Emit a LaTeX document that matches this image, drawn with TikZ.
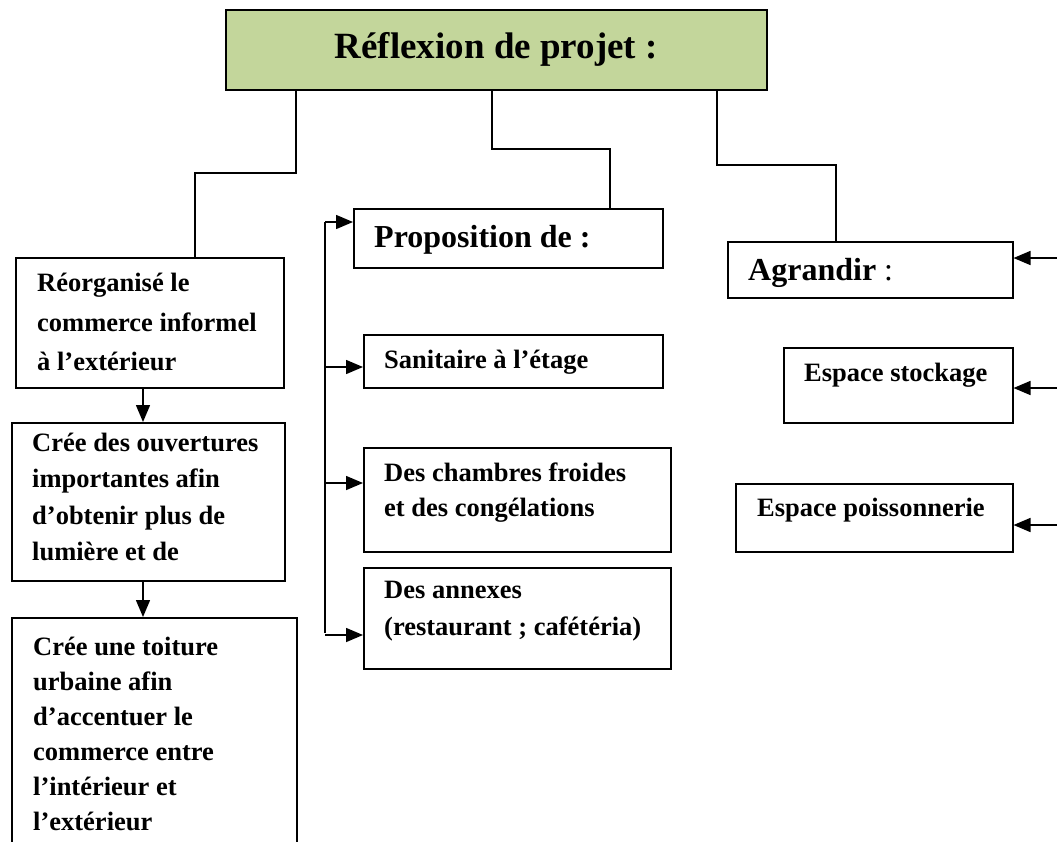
\documentclass[tikz,border=0pt]{standalone}
\usepackage{fontspec}
\setmainfont{Liberation Serif}
\usetikzlibrary{arrows.meta,calc}
\definecolor{titlegreen}{HTML}{C3D69B}
\begin{document}
\begin{tikzpicture}[x=1pt,y=-1pt,
  box/.style={draw, line width=1.5pt, anchor=north west, inner sep=0pt},
  txt/.style={anchor=west, align=left, inner sep=0pt},
  small/.style={font=\fontsize{26.5}{#1}\selectfont\bfseries},
  small/.default=36,
  mid/.style={font=\fontsize{32}{38}\selectfont\bfseries},
  link/.style={line width=1.5pt},
  arr/.style={line width=1.5pt, -{Triangle[length=17pt,width=14pt]}}]
\clip (0,0) rectangle (1057,841);
\fill[white] (0,0) rectangle (1057,841);

% title
\node[box, fill=titlegreen, minimum width=541pt, minimum height=80pt,
      font=\fontsize{37}{44}\selectfont\bfseries] (title) at (225,9) {Réflexion de projet :};

% left column
\node[box, minimum width=268pt, minimum height=130pt] (reorg) at (15,257) {};
\node[txt, small=39.5] (reorgT) at (37,322) {Réorganisé le\\commerce informel\\à l’extérieur};
\node[box, minimum width=273pt, minimum height=158pt] (ouvert) at (11,422) {};
\node[txt, small=36.5] (ouvertT) at (32,497) {Crée des ouvertures\\importantes afin\\d’obtenir plus de\\lumière et de};
\node[box, minimum width=285pt, minimum height=260pt] (toit) at (11,617) {};
\node[txt, small=35] (toitT) at (33,733.5) {Crée une toiture\\urbaine afin\\d’accentuer le\\commerce entre\\l’intérieur et\\l’extérieur};

% middle column
\node[box, minimum width=309pt, minimum height=59pt] (prop) at (353,208) {};
\node[txt, mid] (propT) at (374,240) {Proposition de :};
\node[box, minimum width=299pt, minimum height=53pt] (sanit) at (363,334) {};
\node[txt, small] (sanitT) at (384,362) {Sanitaire à l’étage};
\node[box, minimum width=307pt, minimum height=104pt] (chamb) at (363,447) {};
\node[txt, small=35] (chambT) at (384,492.5) {Des chambres froides\\et des congélations};
\node[box, minimum width=307pt, minimum height=101pt] (annex) at (363,567) {};
\node[txt, small=37] (annexT) at (384,611.5) {Des annexes\\(restaurant ; cafétéria)};

% right column
\node[box, minimum width=285pt, minimum height=56pt] (agr) at (727,241) {};
\node[txt, font=\fontsize{32}{38}\selectfont] (agrT) at (748,273) {\textbf{Agrandir} :};
\node[box, minimum width=229pt, minimum height=75pt] (stock) at (783,347) {};
\node[txt, small] (stockT) at (804,375) {Espace stockage};
\node[box, minimum width=277pt, minimum height=68pt] (poiss) at (735,483) {};
\node[txt, small] (poissT) at (757,510) {Espace poissonnerie};

% branches from the title
\draw[link] ($(title.south west)+(71,0)$) |- ($(reorg.north west)+(180,-84)$) -- ($(reorg.north west)+(180,0)$);
\draw[link] ($(title.south west)+(267,0)$) |- ($(prop.north west)+(257,-59)$) -- ($(prop.north west)+(257,0)$);
\draw[link] ($(title.south west)+(492,0)$) |- ($(agr.north west)+(109,-76)$) -- ($(agr.north west)+(109,0)$);

% left chain
\draw[arr] ($(reorg.south west)+(128,0)$) -- ($(ouvert.north west)+(132,0)$);
\draw[arr] ($(ouvert.south west)+(132,0)$) -- ($(toit.north west)+(132,0)$);

% bracket feeding the middle column
\coordinate (pp) at ($(prop.north west)+(0,14)$);
\coordinate (ps) at ($(sanit.north west)+(0,33)$);
\coordinate (pc) at ($(chamb.north west)+(0,36)$);
\coordinate (pa) at ($(annex.north west)+(0,68)$);
\coordinate (bt) at ($(pp)+(-28,0)$);
\coordinate (bb) at ($(pa)+(-38,-2)$);
\draw[link] (bb -| bt) -- (bt);
\draw[arr] (bt) -- (pp);
\draw[arr] (bt |- ps) -- (ps);
\draw[arr] (bt |- pc) -- (pc);
\draw[arr] (bt |- pa) -- (pa);

% arrows entering from the right
\coordinate (edge) at (1070,0);
\coordinate (qa) at ($(agr.north east)+(0,17)$);
\coordinate (qs) at ($(stock.north east)+(0,41)$);
\coordinate (qp) at ($(poiss.north east)+(0,42)$);
\draw[arr] (edge |- qa) -- (qa);
\draw[arr] (edge |- qs) -- (qs);
\draw[arr] (edge |- qp) -- (qp);
\end{tikzpicture}
\end{document}
